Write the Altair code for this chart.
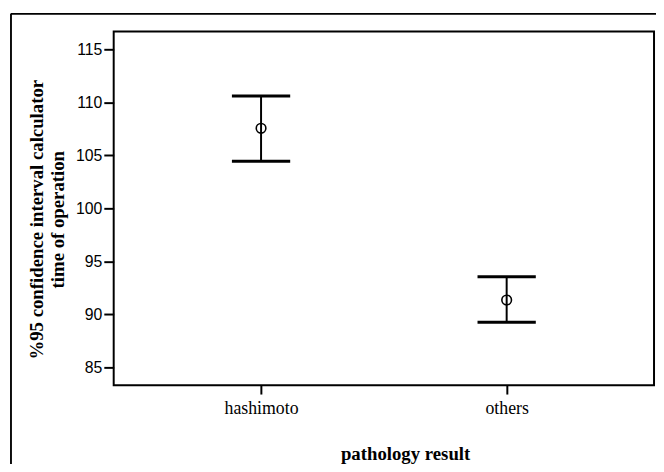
import altair as alt
import pandas as pd

groups = ["hashimoto", "others"]
means = [107.55, 91.35]
lower = [104.45, 89.25]
upper = [110.6, 93.55]

df = pd.DataFrame({"group": groups, "mean": means, "lower": lower, "upper": upper})

W, H = 547, 358
ydom = [83.32, 116.68]

xenc = alt.X("group:N", sort=groups,
             scale=alt.Scale(type="point", padding=0.6),
             axis=alt.Axis(title="pathology result", labelAngle=0,
                           labelFont="Liberation Serif", labelFontSize=18,
                           labelColor="black", labelPadding=6,
                           tickColor="black", tickSize=9, tickWidth=2,
                           domain=False, grid=False,
                           titleFont="Liberation Serif", titleFontSize=19,
                           titleFontWeight="bold", titleColor="black",
                           titlePadding=27, titleX=295))

yscale = alt.Scale(domain=ydom, nice=False, zero=False)

base = alt.Chart(df)

stem = base.mark_rule(color="black", strokeWidth=2).encode(
    x=xenc,
    y=alt.Y("lower:Q", scale=yscale,
            axis=alt.Axis(title=["%95 confidence interval calculator", "time of operation"],
                          values=[85, 90, 95, 100, 105, 110, 115],
                          labelFont="Liberation Sans", labelFontSize=16,
                          labelColor="black", labelPadding=2,
                          tickColor="black", tickSize=10, tickWidth=2,
                          domain=False, grid=False,
                          titleFont="Liberation Serif", titleFontSize=19,
                          titleFontWeight="bold", titleColor="black",
                          titleLineHeight=21, titleX=-68, titleY=190,
                          titleAngle=270, titleAlign="center",
                          titleBaseline="bottom")),
    y2="upper:Q",
)

cap_lo = base.mark_tick(color="black", thickness=3, size=59, orient="horizontal",
                        opacity=1).encode(
    x=alt.X("group:N", sort=groups), y=alt.Y("lower:Q", scale=yscale))
cap_hi = base.mark_tick(color="black", thickness=3, size=59, orient="horizontal",
                        opacity=1).encode(
    x=alt.X("group:N", sort=groups), y=alt.Y("upper:Q", scale=yscale))

pt = base.mark_point(shape="circle", filled=False, color="black", size=95,
                     strokeWidth=1.6, opacity=1).encode(
    x=alt.X("group:N", sort=groups), y=alt.Y("mean:Q", scale=yscale))

frame_v = alt.Chart(df).mark_rule(color="black", strokeWidth=1.5, clip=False).encode(
    x=alt.value(-104), y=alt.value(-18), y2=alt.value(460))
frame_h = alt.Chart(df).mark_rule(color="black", strokeWidth=1.5, clip=False).encode(
    x=alt.value(-104), x2=alt.value(560), y=alt.value(-18))

chart = alt.layer(frame_v, frame_h, stem, cap_lo, cap_hi, pt).properties(
    width=W, height=H,
    padding={"left": 107, "top": 21, "right": 2, "bottom": 77},
    autosize=alt.AutoSizeParams(type="none"),
).configure(background="white", view=alt.ViewConfig(stroke="black", strokeWidth=2))

chart.save("out.html", embed_options={"renderer": "svg", "actions": False})
